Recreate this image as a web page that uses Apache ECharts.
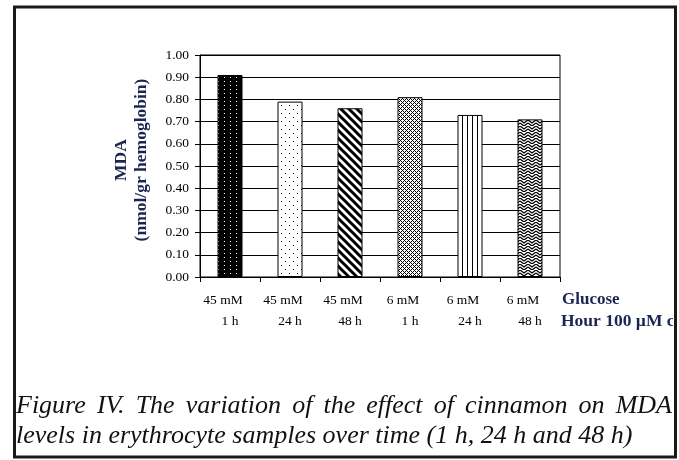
<!DOCTYPE html>
<html>
<head>
<meta charset="utf-8">
<script src="https://cdn.jsdelivr.net/npm/echarts@6/dist/echarts.min.js"></script>
<style>
  html, body { margin: 0; padding: 0; background: #fff; }
  #chart { width: 679px; height: 460px; }
</style>
</head>
<body>
<div id="chart"></div>
<script>
// data
const glucose = ['45 mM', '45 mM', '45 mM', '6 mM', '6 mM', '6 mM'];
const hours = ['1 h', '24 h', '48 h', '1 h', '24 h', '48 h'];
const mda = [0.91, 0.79, 0.76, 0.81, 0.73, 0.71];
const captionLines = [
  'Figure IV. The variation of the effect of cinnamon on MDA',
  'levels in erythrocyte samples over time (1 h, 24 h and 48 h)'
];

const NAVY = '#1b2552';
const CAPTION_FONT = 'italic 26px "Liberation Serif"';

// little canvas tiles that mimic the excel fill patterns
function tile(w, h, draw) {
  const c = document.createElement('canvas');
  c.width = w; c.height = h;
  const ctx = c.getContext('2d');
  draw(ctx, w, h);
  return { image: c, repeat: 'repeat' };
}
const px = (ctx, x, y) => ctx.fillRect(x, y, 1, 1);

const patterns = [
  // black with white dots
  tile(6, 4, (ctx, w, h) => {
    ctx.fillStyle = '#000'; ctx.fillRect(0, 0, w, h);
    ctx.fillStyle = '#fff'; px(ctx, 2, 1);
  }),
  // sparse dots
  tile(8, 8, (ctx, w, h) => {
    ctx.fillStyle = '#fff'; ctx.fillRect(0, 0, w, h);
    ctx.fillStyle = '#000'; px(ctx, 1, 1); px(ctx, 5, 5);
  }),
  // wide downward diagonal
  tile(8, 8, (ctx, w, h) => {
    ctx.fillStyle = '#fff'; ctx.fillRect(0, 0, w, h);
    ctx.strokeStyle = '#000'; ctx.lineWidth = 3;
    for (let k = -1; k <= 1; k++) {
      ctx.beginPath(); ctx.moveTo(k * 8 - 2, -2); ctx.lineTo(k * 8 + 10, 10); ctx.stroke();
    }
  }),
  // small diamond grid
  tile(4, 4, (ctx, w, h) => {
    ctx.fillStyle = '#fff'; ctx.fillRect(0, 0, w, h);
    ctx.fillStyle = '#000';
    for (let x = 0; x < 4; x++) for (let y = 0; y < 4; y++) {
      if ((x + y) % 4 === 0 || (x - y + 4) % 4 === 0) px(ctx, x, y);
    }
  }),
  // vertical lines
  tile(5, 2, (ctx, w, h) => {
    ctx.fillStyle = '#fff'; ctx.fillRect(0, 0, w, h);
    ctx.fillStyle = '#000'; ctx.fillRect(2, 0, 1, h);
  }),
  // zigzag weave
  tile(8, 6, (ctx, w, h) => {
    ctx.fillStyle = '#fff'; ctx.fillRect(0, 0, w, h);
    ctx.strokeStyle = '#000'; ctx.lineWidth = 1.3;
    ctx.beginPath();
    ctx.moveTo(0, 0); ctx.lineTo(4, 3); ctx.lineTo(8, 0);
    ctx.moveTo(0, 3); ctx.lineTo(4, 6); ctx.lineTo(8, 3);
    ctx.stroke();
  })
];

const categories = glucose.map((g, i) => '{g|' + g + '}\n{h|' + hours[i] + '}');

// first caption line is justified in the original, so lay it out word by word
const measureCtx = document.createElement('canvas').getContext('2d');
measureCtx.font = CAPTION_FONT;
function justified(text, x0, x1, y) {
  const words = text.split(' ');
  const widths = words.map(w => measureCtx.measureText(w).width);
  const total = widths.reduce((a, b) => a + b, 0);
  const gap = (x1 - x0 - total) / (words.length - 1);
  let x = x0;
  return words.map((w, i) => {
    const el = {
      type: 'text', x: x, y: y, z: 60,
      style: { text: w, verticalAlign: 'middle', font: CAPTION_FONT, fill: '#111' }
    };
    x += widths[i] + gap;
    return el;
  });
}

const chart = echarts.init(document.getElementById('chart'), null, { renderer: 'canvas' });

const labelText = { color: '#000', fontFamily: 'Liberation Serif', fontSize: 13.5, lineHeight: 21 };

chart.setOption({
  backgroundColor: '#fff',
  animation: false,
  grid: {
    left: 200, right: 119, top: 55, bottom: 183,
    show: true, borderColor: '#000', borderWidth: 1, backgroundColor: 'transparent'
  },
  xAxis: {
    type: 'category',
    data: categories,
    axisLine: { lineStyle: { color: '#000', width: 1 } },
    axisTick: { show: true, length: 5, lineStyle: { color: '#000' } },
    axisLabel: {
      color: '#000', fontFamily: 'Liberation Serif', fontSize: 13.5,
      lineHeight: 21, margin: 13, interval: 0,
      rich: {
        g: Object.assign({ padding: [0, 14, 0, 0] }, labelText),
        h: labelText
      }
    },
    splitLine: { show: false }
  },
  yAxis: {
    type: 'value',
    min: 0, max: 1, interval: 0.1,
    axisLine: { show: true, lineStyle: { color: '#000', width: 1 } },
    axisTick: { show: true, length: 5, lineStyle: { color: '#000' } },
    axisLabel: {
      color: '#000', fontFamily: 'Liberation Serif', fontSize: 13.5, margin: 11,
      formatter: v => v.toFixed(2)
    },
    splitLine: { show: true, lineStyle: { color: '#000', width: 1 } }
  },
  series: [{
    type: 'bar',
    barWidth: 25,
    data: mda.map((v, i) => ({
      value: v,
      itemStyle: { color: patterns[i], borderColor: '#000', borderWidth: 1 }
    })),
    z: 3
  }],
  graphic: [
    {
      type: 'text', x: 131, y: 160, rotation: Math.PI / 2,
      style: {
        text: 'MDA\n(nmol/gr hemoglobin)', align: 'center', verticalAlign: 'middle',
        font: 'bold 17.5px "Liberation Serif"', lineHeight: 20, fill: NAVY
      }
    },
    {
      type: 'text', x: 562, y: 300,
      style: { text: 'Glucose', verticalAlign: 'middle', font: 'bold 17px "Liberation Serif"', fill: NAVY }
    },
    {
      type: 'text', x: 561, y: 321,
      style: { text: 'Hour 100 µM cinnamon', verticalAlign: 'middle', font: 'bold 17.5px "Liberation Serif"', fill: NAVY }
    },
    {
      type: 'rect', z: 50, shape: { x: 673, y: 0, width: 10, height: 460 },
      style: { fill: '#fff' }
    },
    ...justified(captionLines[0], 16, 672, 406),
    {
      type: 'text', x: 16, y: 436, z: 60,
      style: { text: captionLines[1], verticalAlign: 'middle', font: CAPTION_FONT, fill: '#111' }
    },
    {
      type: 'rect', z: 100, shape: { x: 14.5, y: 7, width: 661, height: 450 },
      style: { fill: 'transparent', stroke: '#1a1a1a', lineWidth: 3 }
    }
  ]
});
</script>
</body>
</html>
